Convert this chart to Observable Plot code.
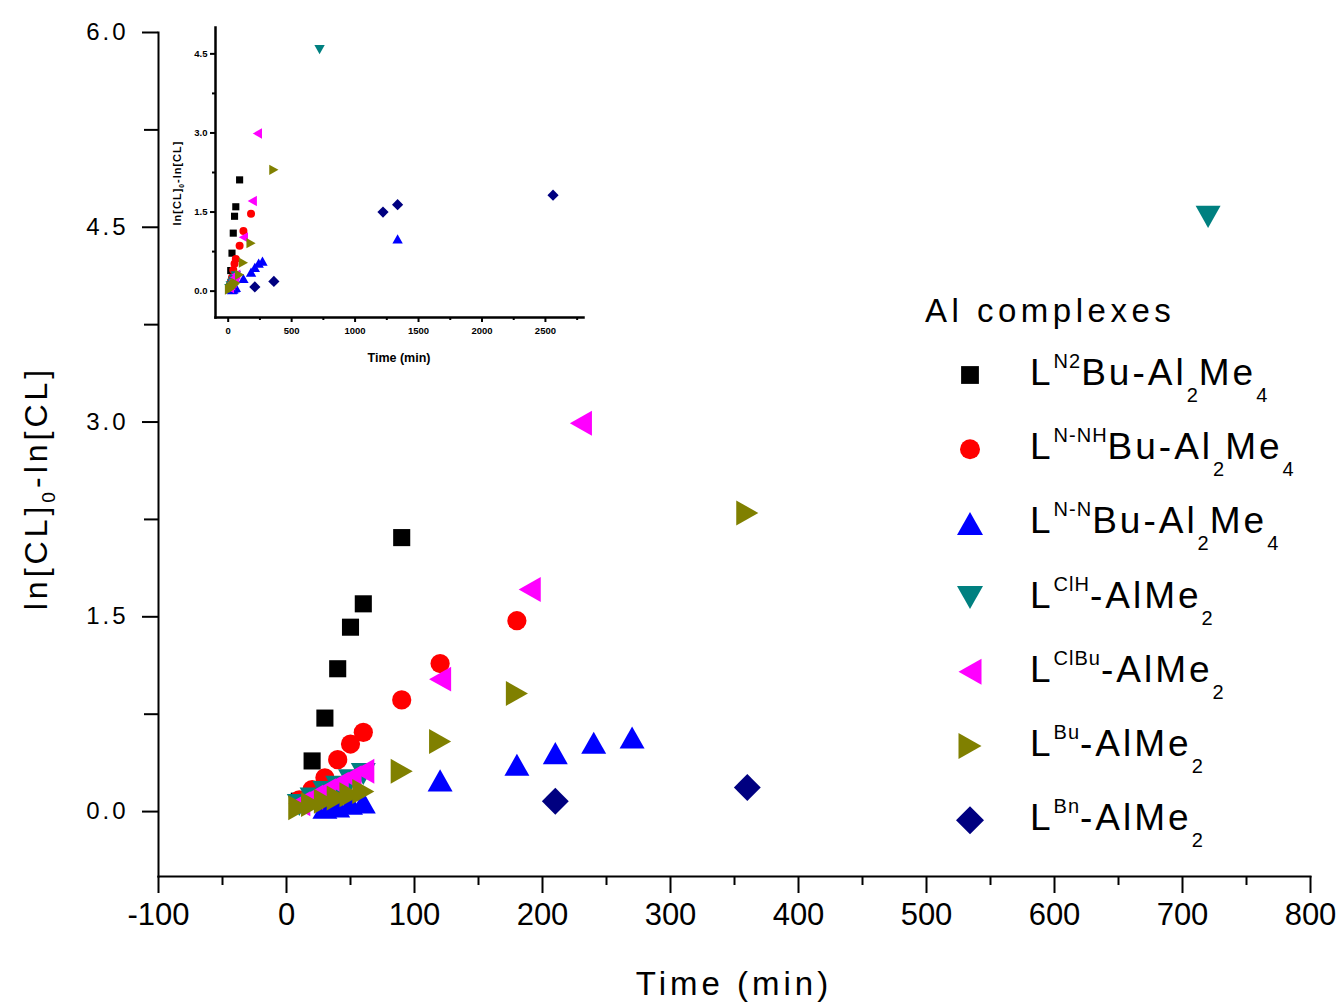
<!DOCTYPE html>
<html><head><meta charset="utf-8">
<script src="https://cdn.jsdelivr.net/npm/d3@7"></script>
<script src="https://cdn.jsdelivr.net/npm/@observablehq/plot@0.6"></script>
<style>
body{margin:0;background:#fff;}
#wrap{position:relative;width:1344px;height:1007px;font-family:"Liberation Sans",Arial,sans-serif;}
#wrap > svg{position:absolute;}
</style></head><body><div id="wrap"></div>
<script>
// ---------------- data ----------------
const seriesKeys = ["N2", "NNH", "NN", "ClH", "ClBu", "Bu", "Bn"];
const timeN2 = [10, 20, 30, 40, 50, 60, 90];
const lnN2 = [0.08, 0.39, 0.72, 1.10, 1.42, 1.60, 2.11];
const timeNNH = [10, 20, 30, 40, 50, 60, 90, 120, 180];
const lnNNH = [0.09, 0.17, 0.26, 0.40, 0.52, 0.61, 0.86, 1.14, 1.47];
const timeNN = [30, 40, 50, 60, 120, 180, 210, 240, 270, 1335];
const lnNN = [0.03, 0.04, 0.06, 0.07, 0.24, 0.36, 0.45, 0.53, 0.57, 0.99];
const timeClH = [10, 20, 30, 40, 50, 60, 720];
const lnClH = [0.05, 0.10, 0.15, 0.19, 0.24, 0.29, 4.58];
const timeClBu = [10, 20, 30, 40, 50, 60, 120, 190, 230];
const lnClBu = [0.06, 0.11, 0.16, 0.21, 0.26, 0.31, 1.02, 1.71, 2.99];
const timeBu = [10, 20, 30, 40, 50, 60, 90, 120, 180, 360];
const lnBu = [0.03, 0.055, 0.08, 0.105, 0.13, 0.155, 0.31, 0.54, 0.91, 2.30];
const timeBn = [210, 360, 1220, 1335, 2560];
const lnBn = [0.08, 0.185, 1.50, 1.64, 1.82];

// legend labels: [text, kind]
const labelN2 = [["L",""],["N2","sup"],["Bu-Al",""],["2","sub"],["Me",""],["4","sub"]];
const labelNNH = [["L",""],["N-NH","sup"],["Bu-Al",""],["2","sub"],["Me",""],["4","sub"]];
const labelNN = [["L",""],["N-N","sup"],["Bu-Al",""],["2","sub"],["Me",""],["4","sub"]];
const labelClH = [["L",""],["ClH","sup"],["-AlMe",""],["2","sub"]];
const labelClBu = [["L",""],["ClBu","sup"],["-AlMe",""],["2","sub"]];
const labelBu = [["L",""],["Bu","sup"],["-AlMe",""],["2","sub"]];
const labelBn = [["L",""],["Bn","sup"],["-AlMe",""],["2","sub"]];
const legendTitle = "Al complexes";

const mainXTicks = [-100, 0, 100, 200, 300, 400, 500, 600, 700, 800];
const mainYTicks = [0, 1.5, 3, 4.5, 6];
const insetXTicks = [0, 500, 1000, 1500, 2000, 2500];
const insetYTicks = [0, 1.5, 3, 4.5];
const xTitle = "Time (min)";

// ---------------- styles ----------------
const colors = ["#000000", "#ff0000", "#0000ff", "#008080", "#ff00ff", "#808000", "#000080"];
function R(size){ return Math.sqrt(size/Math.PI); }
const symSquare = {draw(c,s){const r=R(s)*0.89; c.rect(-r,-r,2*r,2*r);}};
const symCircle = {draw(c,s){const r=R(s)*1.0; c.moveTo(r,0); c.arc(0,0,r,0,2*Math.PI);}};
const symUp = {draw(c,s){const r=R(s),w=1.3*r,h=1.15*r; c.moveTo(0,-h); c.lineTo(w,h); c.lineTo(-w,h); c.closePath();}};
const symDown = {draw(c,s){const r=R(s),w=1.3*r,h=1.15*r; c.moveTo(0,h); c.lineTo(w,-h); c.lineTo(-w,-h); c.closePath();}};
const symLeft = {draw(c,s){const r=R(s),w=1.3*r,h=1.15*r; c.moveTo(-h,0); c.lineTo(h,-w); c.lineTo(h,w); c.closePath();}};
const symRight = {draw(c,s){const r=R(s),w=1.3*r,h=1.15*r; c.moveTo(h,0); c.lineTo(-h,-w); c.lineTo(-h,w); c.closePath();}};
const symDiamond = {draw(c,s){const d=R(s)*1.4; c.moveTo(0,-d); c.lineTo(d,0); c.lineTo(0,d); c.lineTo(-d,0); c.closePath();}};
const symbols = [symSquare, symCircle, symUp, symDown, symLeft, symRight, symDiamond];

// ---------------- table ----------------
const times = [timeN2, timeNNH, timeNN, timeClH, timeClBu, timeBu, timeBn];
const values = [lnN2, lnNNH, lnNN, lnClH, lnClBu, lnBu, lnBn];
const labels = [labelN2, labelNNH, labelNN, labelClH, labelClBu, labelBu, labelBn];
const rows = [];
seriesKeys.forEach((k,i) => times[i].forEach((t,j) => rows.push({series:k, time:t, ln:values[i][j]})));

function dotMarks(r, clip){
  return seriesKeys.map((k,i) => Plot.dot(rows.filter(d => d.series === k),
    {x:"time", y:"ln", fill:colors[i], symbol:symbols[i], r, clip}));
}
const font = "'Liberation Sans', Arial, sans-serif";
const wrap = document.getElementById("wrap");

// ---------------- main plot ----------------
const main = Plot.plot({
  width:1344, height:1007,
  marginLeft:158, marginRight:34, marginTop:32, marginBottom:131,
  style:{fontFamily:font, color:"#000", background:"transparent"},
  x:{domain:[-100,800]},
  y:{domain:[-0.5,6]},
  marks:[
    Plot.axisX({ticks:mainXTicks, tickSize:17, tickPadding:9, fontSize:31, strokeWidth:2, label:null, tickFormat:d=>String(d)}),
    Plot.axisX({ticks:d3.range(-50,800,100), tickSize:9, strokeWidth:2, text:null, label:null}),
    Plot.axisY({ticks:mainYTicks, tickSize:16, tickPadding:14, fontSize:24, strokeWidth:2, label:null, tickFormat:d3.format(".1f")}),
    Plot.axisY({ticks:d3.range(0.75,6,1.5), tickSize:14, strokeWidth:2, text:null, label:null}),
    Plot.frame({anchor:"left", strokeWidth:2}),
    Plot.frame({anchor:"bottom", strokeWidth:2}),
    ...dotMarks(9.6, true)
  ]
});
const ms = d3.select(main);
ms.selectAll('g[aria-label="y-axis tick label"] text').style("letter-spacing","3px");
ms.append("text").attr("x",(158+1310)/2).attr("y",995).attr("text-anchor","middle")
  .attr("font-size",33).attr("letter-spacing","4px").attr("fill","#000").text(xTitle);
function yTitle(sel, x, y, fs, ls, weight){
  const t = sel.append("text").attr("transform",`translate(${x},${y}) rotate(-90)`).attr("text-anchor","middle")
    .attr("font-size",fs).attr("letter-spacing",ls).attr("font-weight",weight).attr("fill","#000");
  t.append("tspan").text("ln[CL]");
  t.append("tspan").attr("dy",fs*0.25).attr("font-size",fs*0.6).text("0");
  t.append("tspan").attr("dy",-fs*0.25).text("-ln[CL]");
}
yTitle(ms, 47, 488, 32, "4px", "normal");
wrap.appendChild(main);
main.style.left = "0px"; main.style.top = "0px";

// ---------------- inset ----------------
const inset = Plot.plot({
  width:440, height:370,
  marginLeft:55, marginRight:17, marginTop:27, marginBottom:53,
  style:{fontFamily:font, color:"#000", background:"transparent"},
  x:{domain:[-100,2800]},
  y:{domain:[-0.5,5]},
  marks:[
    Plot.axisX({ticks:insetXTicks, tickSize:5, tickPadding:5, fontSize:9.5, fontWeight:"bold", strokeWidth:2, label:null, tickFormat:d=>String(d)}),
    Plot.axisX({ticks:d3.range(250,2800,500), tickSize:3, strokeWidth:2, text:null, label:null}),
    Plot.axisY({ticks:insetYTicks, tickSize:5, tickPadding:3, fontSize:9.5, fontWeight:"bold", strokeWidth:2, label:null, tickFormat:d3.format(".1f")}),
    Plot.axisY({ticks:d3.range(0.75,5,1.5), tickSize:3, strokeWidth:2, text:null, label:null}),
    Plot.frame({anchor:"left", strokeWidth:2.5}),
    Plot.frame({anchor:"bottom", strokeWidth:2.5}),
    ...dotMarks(4, false)
  ]
});
const is = d3.select(inset);
is.append("text").attr("x",(55+423)/2).attr("y",362).attr("text-anchor","middle")
  .attr("font-size",12.5).attr("font-weight","bold").attr("fill","#000").text(xTitle);
yTitle(is, 21, 183, 11, "1px", "bold");
wrap.appendChild(inset);
inset.style.left = "160px"; inset.style.top = "0px";

// ---------------- legend ----------------
const leg = d3.create("svg").attr("width",444).attr("height",620)
  .style("position","absolute").style("left","900px").style("top","260px")
  .attr("font-family",font);
leg.append("text").attr("x",25).attr("y",322-260).attr("font-size",33).attr("letter-spacing","4.5px")
  .attr("fill","#000").text(legendTitle);
seriesKeys.forEach((k,i) => {
  const cy = 375 + 74.2*i - 260;
  const p = d3.path(); symbols[i].draw(p, Math.PI*10*10);
  leg.append("path").attr("transform",`translate(70,${cy})`).attr("d",p.toString()).attr("fill",colors[i]);
  const base = cy + 10;
  const t = leg.append("text").attr("x",130).attr("y",base).attr("font-size",37).attr("letter-spacing","3px").attr("fill","#000");
  labels[i].forEach(([s,kind]) => {
    const ts = t.append("tspan").text(s);
    if (kind === "sup") ts.attr("y", base-17).attr("font-size",20).attr("letter-spacing","1px");
    else if (kind === "sub") ts.attr("y", base+17).attr("font-size",20).attr("letter-spacing","1px");
    else ts.attr("y", base);
  });
});
wrap.appendChild(leg.node());
</script></body></html>
